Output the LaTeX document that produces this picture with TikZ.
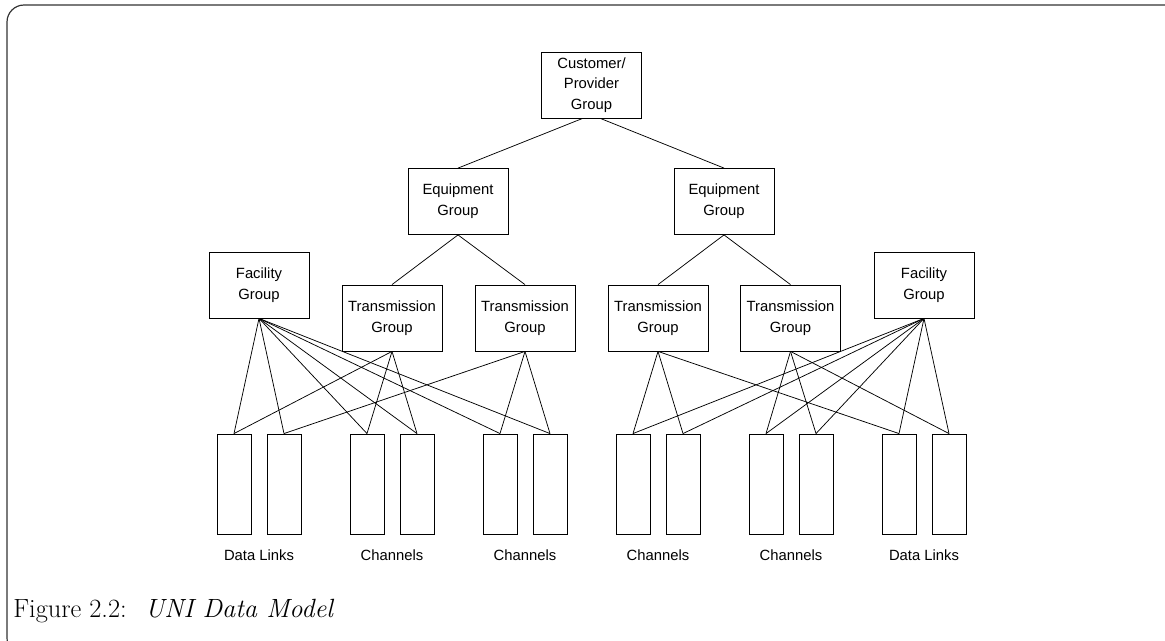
\documentclass[tikz,border=0pt]{standalone}
\usepackage{fontspec}
\newfontfamily\helv{Liberation Sans}
\usetikzlibrary{positioning}

\tikzset{
	grp/.style={draw, line width=0.6pt, minimum width=67.5pt, minimum height=44.5pt, align=center, inner sep=0pt, font=\helv\fontsize{10}{14}\selectfont},
	leaf/.style={draw, line width=0.6pt, minimum width=23pt, minimum height=67.5pt, inner sep=0pt},
	lbl/.style={inner sep=0pt, font=\helv\fontsize{10}{12}\selectfont},
	link/.style={line width=0.5pt}
}

\begin{document}
\begin{tikzpicture}[x=0.675pt, y=-0.675pt]
			%%%%% START %%%%%
			
			\useasboundingbox (0, 0) rectangle (1165, 641);
			\begin{scope}
				\clip (0, 0) rectangle (1165, 641);
				\draw[rounded corners=11.5pt, line width=0.8pt, color=black!80] (7, 5) rectangle (1200, 655);
			\end{scope}
			
			\node[grp] (cust) at (591.5, 85) {Customer/\\Provider\\Group};
			
			\node[grp] (eqL) at (458, 201.5) {Equipment\\Group};
			\node[grp] (eqR) at (724, 201.5) {Equipment\\Group};
			
			\node[grp] (facL) at (259, 285) {Facility\\Group};
			\node[grp] (facR) at (924, 285) {Facility\\Group};
			
			\node[grp] (trL1) at (392, 318) {Transmission\\Group};
			\node[grp] (trL2) at (525, 318) {Transmission\\Group};
			\node[grp] (trR1) at (658, 318) {Transmission\\Group};
			\node[grp] (trR2) at (790.5, 318) {Transmission\\Group};
			
			\foreach \x [count=\i] in {234, 284, 367, 417, 500, 550, 633, 683, 766, 816, 899, 949}
				\node[leaf] (l\i) at (\x, 484) {};
			
			\node[lbl] (dlL) at (259, 555) {Data Links};
			\node[lbl] (chL1) at (392, 555) {Channels};
			\node[lbl] (chL2) at (525, 555) {Channels};
			\node[lbl] (chR1) at (658, 555) {Channels};
			\node[lbl] (chR2) at (791, 555) {Channels};
			\node[lbl] (dlR) at (924, 555) {Data Links};
			
			\draw[link] ([xshift=-6pt]cust.south) -- (eqL.north);
			\draw[link] ([xshift=6pt]cust.south) -- (eqR.north);
			
			\foreach \t in {trL1, trL2} \draw[link] (eqL.south) -- (\t.north);
			\foreach \t in {trR1, trR2} \draw[link] (eqR.south) -- (\t.north);
			
			\foreach \i in {1, ..., 6} \draw[link] (facL.south) -- (l\i.north);
			\foreach \i in {7, ..., 12} \draw[link] (facR.south) -- (l\i.north);
			
			\foreach \i in {1, 3, 4} \draw[link] (trL1.south) -- (l\i.north);
			\foreach \i in {2, 5, 6} \draw[link] (trL2.south) -- (l\i.north);
			\foreach \i in {7, 8, 11} \draw[link] (trR1.south) -- (l\i.north);
			\foreach \i in {9, 10, 12} \draw[link] (trR2.south) -- (l\i.north);
			
			\node[anchor=base west, inner sep=0pt, font=\fontsize{17.8}{20}\selectfont] (cap) at (13, 617) {Figure 2.2:\hspace{0.7em}\textit{UNI Data Model}};
			
			%%%%% END %%%%%
\end{tikzpicture}
\end{document}
